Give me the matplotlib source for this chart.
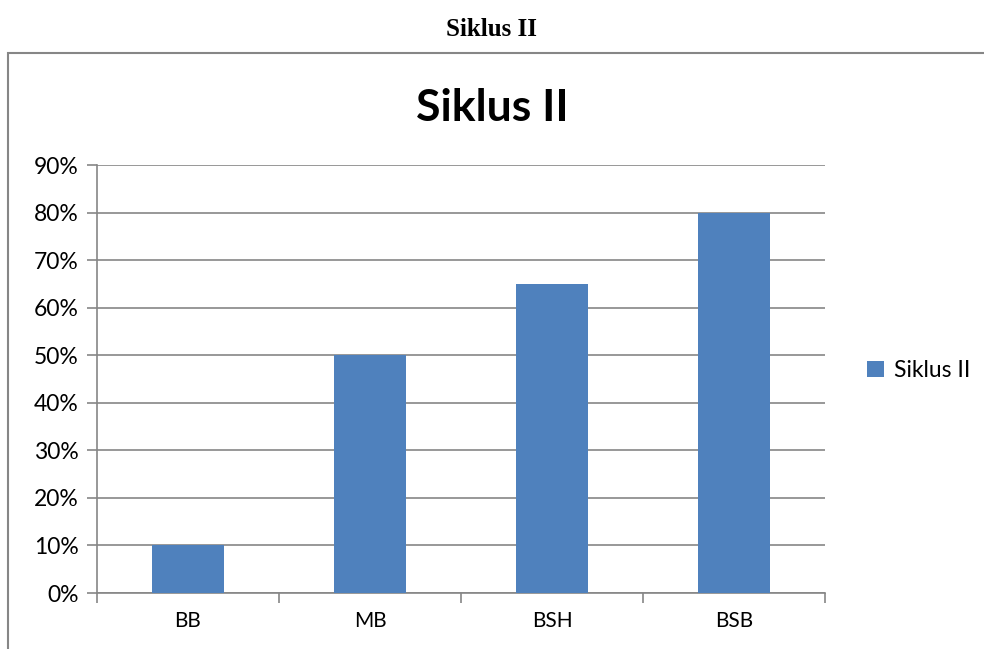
import matplotlib.pyplot as plt
from matplotlib.patches import Rectangle

categories = ["BB", "MB", "BSH", "BSB"]
values = [10, 50, 65, 80]
series_name = "Siklus II"
yticks = [0, 10, 20, 30, 40, 50, 60, 70, 80, 90]

barColor = "#4F81BD"
lineColor = "#868686"

plt.rcParams['font.family'] = ['Lato', 'DejaVu Sans']

fig = plt.figure(figsize=(9.84, 6.49), dpi=100)

# outer document heading
fig.text(0.5, 1 - 30/649, "Siklus II", ha="center", va="center",
         fontsize=18, fontweight="bold", family=["Liberation Serif"])

# chart frame (left and top edges visible)
frame = Rectangle((8/984, -0.01), 1.0, 1 - 53/649 + 0.01, transform=fig.transFigure,
                  fill=False, edgecolor=lineColor, linewidth=1.5)
fig.patches.append(frame)

fig.text(0.5, 1 - 108/649, "Siklus II", ha="center", va="center",
         fontsize=32, fontweight="bold")

ax = fig.add_axes([97/984, 1 - 593/649, (825 - 97)/984, (593 - 165)/649])
x = range(len(categories))
bars = ax.bar(x, values, width=0.4, color=barColor, label=series_name, zorder=3)

ax.set_xlim(-0.5, len(categories) - 0.5)
ax.set_ylim(0, 90)
ax.set_yticks(yticks)
ax.set_yticklabels([f"{v}%" for v in yticks])
ax.set_xticks(list(x))
ax.set_xticklabels(categories)
ax.set_xticks([-0.5, 0.5, 1.5, 2.5, 3.5], minor=True)
ax.tick_params(axis="x", which="major", length=0, pad=13, labelsize=15)
ax.tick_params(axis="x", which="minor", length=7, color=lineColor, width=1.2)
ax.tick_params(axis="y", length=7, color=lineColor, width=1.2, labelsize=16.5, pad=6)
ax.yaxis.grid(True, color=lineColor, linewidth=1.2, zorder=0)

for side in ["top", "right"]:
    ax.spines[side].set_visible(False)
for side in ["left", "bottom"]:
    ax.spines[side].set_color(lineColor)
    ax.spines[side].set_linewidth(1.2)

leg = ax.legend(loc="center left", bbox_to_anchor=(1.03, 0.52), frameon=False,
                fontsize=16.5, handlelength=0.7, handleheight=0.7, handletextpad=0.45)

fig.savefig("out.png", dpi=100)
